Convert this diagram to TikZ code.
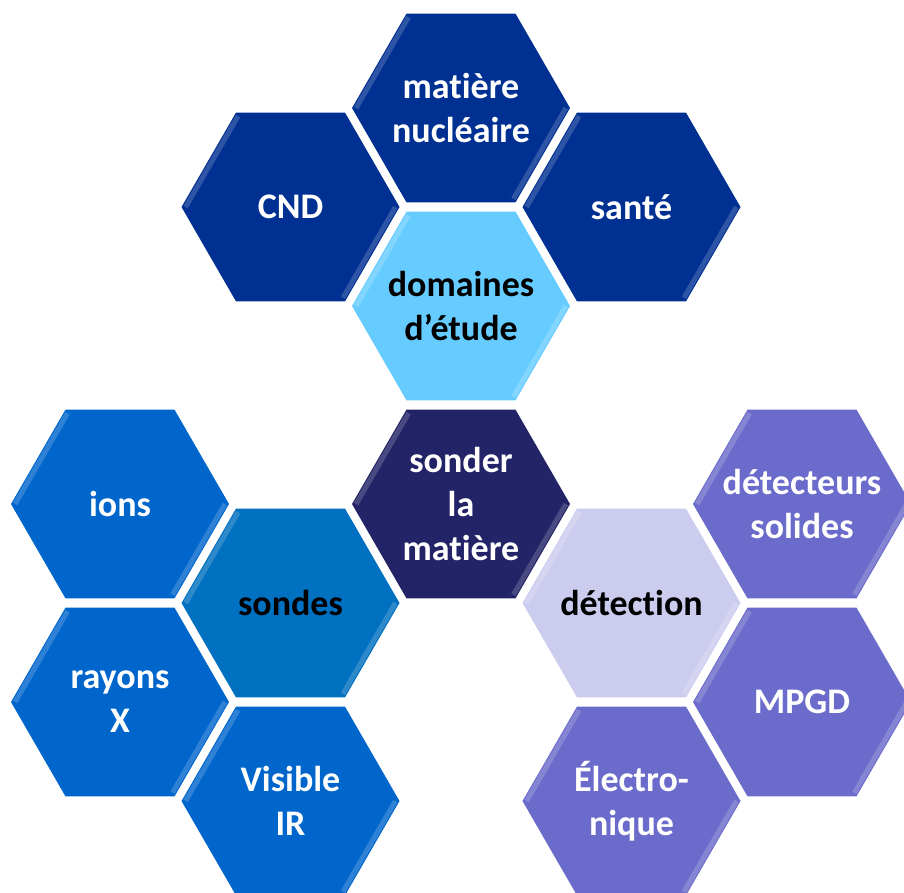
\documentclass[tikz,border=0pt]{standalone}
\usepackage{fontspec}
\setmainfont{Carlito}[Ligatures={NoCommon}]
\usetikzlibrary{shapes.geometric,calc}
\definecolor{navy}{RGB}{0,48,146}
\definecolor{ciel}{RGB}{102,204,255}
\definecolor{indigo}{RGB}{35,35,104}
\definecolor{sondebleu}{RGB}{0,112,192}
\definecolor{bleu}{RGB}{0,102,204}
\definecolor{lavande}{RGB}{204,204,238}
\definecolor{violet}{RGB}{107,107,203}
\begin{document}
\begin{tikzpicture}[x=1pt,y=-1pt,
	hexa/.style={regular polygon,regular polygon sides=6,minimum size=218pt,inner sep=-60pt,
		align=center,text=white,font=\fontsize{36}{44}\selectfont\bfseries},
	bevel/.style={line width=5pt,white,opacity=0.18}]
	\useasboundingbox (0,0) rectangle (904,892);
	\clip (0,0) rectangle (904,892);
	% domaines d'etude
	\node[hexa,fill=navy] (matiere) at (461,108) {matière\\nucléaire};
	\node[hexa,fill=navy] (cnd) at (290.5,207) {CND};
	\node[hexa,fill=navy] (sante) at (631.5,207) {santé};
	\node[hexa,fill=ciel,text=black] (domaines) at (461,306) {domaines\\d’étude};
	% centre
	\node[hexa,fill=indigo] (sonder) at (461,504) {sonder\\la\\matière};
	% sondes
	\node[hexa,fill=sondebleu,text=black] (sondes) at (290.5,603) {sondes};
	\node[hexa,fill=bleu] (ions) at (120,504) {ions};
	\node[hexa,fill=bleu] (rayons) at (120,702) {rayons\\X};
	\node[hexa,fill=bleu] (visible) at (290.5,801) {Visible\\IR};
	% detection
	\node[hexa,fill=lavande,text=black] (detection) at (631.5,603) {détection};
	\node[hexa,fill=violet] (solides) at (802,504) {détecteurs\\solides};
	\node[hexa,fill=violet] (mpgd) at (802,702) {MPGD};
	\node[hexa,fill=violet] (electro) at (631.5,801) {Électro-\\nique};
	% reflets
	\foreach \h in {matiere,cnd,sante,domaines,sonder,sondes,ions,rayons,visible,detection,solides,mpgd,electro}{
		\draw[bevel] ($(\h.corner 6)!0.04!(\h.center)$) -- ($(\h.corner 5)!0.04!(\h.center)$);
		\draw[bevel] ($(\h.corner 2)!0.04!(\h.center)$) -- ($(\h.corner 3)!0.04!(\h.center)$);
	}
\end{tikzpicture}
\end{document}
